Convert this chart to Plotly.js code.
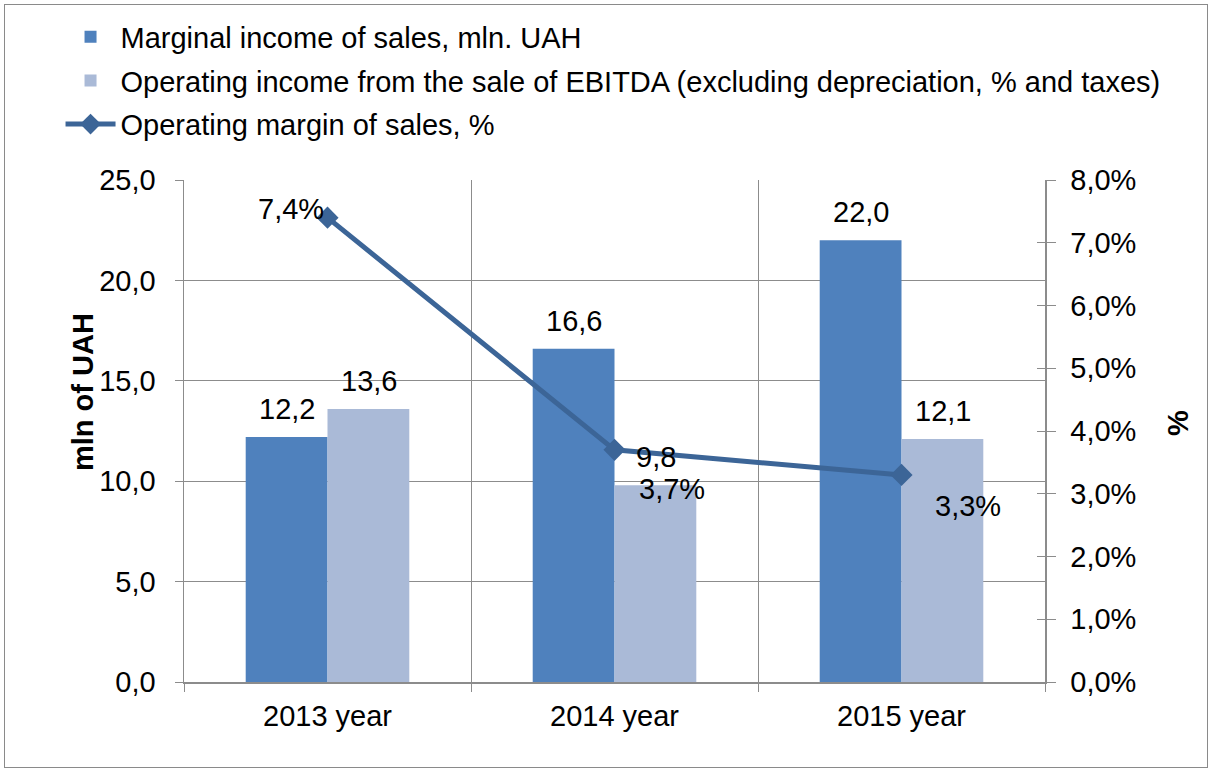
<!DOCTYPE html>
<html>
<head>
<meta charset="utf-8">
<script src="https://cdn.plot.ly/plotly-3.0.1.min.js"></script>
<style>
  html, body { margin: 0; padding: 0; background: #fff; }
  #wrap { position: relative; width: 1212px; height: 772px; }
  #chart { width: 1212px; height: 772px; }
  #frame { position: absolute; left: 4px; top: 4px; width: 1202px; height: 762px; border: 1px solid #8a8a8a; pointer-events: none; }
</style>
</head>
<body>
<div id="wrap"><div id="chart"></div><div id="frame"></div></div>
<script>
const categories = ["2013 year", "2014 year", "2015 year"];
const marginalIncome = [12.2, 16.6, 22.0];
const operatingIncome = [13.6, 9.8, 12.1];
const operatingMargin = [0.074, 0.037, 0.033];
const seriesNames = [
  "Marginal income of sales, mln. UAH",
  "Operating income from the sale of EBITDA (excluding depreciation, % and taxes)",
  "Operating margin of sales, %"
];
const leftTicks = [0, 5, 10, 15, 20, 25];
const rightTicks = [0, 0.01, 0.02, 0.03, 0.04, 0.05, 0.06, 0.07, 0.08];
const leftTitle = "mln of UAH";
const rightTitle = "%";

// label placement styling (pixel offsets from each point)
const lineLabelShiftX = [-37, 57, 66];
const lineLabelShiftY = [9, -39, -31];

const FONT = "Liberation Sans, Arial, sans-serif";
const FS = 29;
const gridColor = "#8c8c8c";

const fmt1 = v => v.toFixed(1).replace(".", ",");
const fmtPct = v => (v * 100).toFixed(1).replace(".", ",") + "%";

const traces = [
  {
    type: "bar", name: seriesNames[0], x: categories, y: marginalIncome,
    marker: { color: "#4F81BD" }, legendgroup: "a"
  },
  {
    type: "bar", name: seriesNames[1], x: categories, y: operatingIncome,
    marker: { color: "#AABAD7" }, legendgroup: "b"
  },
  {
    type: "scatter", mode: "lines+markers", name: seriesNames[2],
    x: categories, y: operatingMargin, yaxis: "y2", legendgroup: "c",
    line: { color: "#3C6597", width: 5 },
    marker: { symbol: "diamond", size: 17, color: "#3C6597" }
  },
  { type: "scatter", x: categories, y: operatingMargin, yaxis: "y3", mode: "none", showlegend: false, hoverinfo: "skip" }
];

const annotations = [];
const barHalf = 41;
categories.forEach((c, i) => {
  annotations.push({ x: c, y: marginalIncome[i], xref: "x", yref: "y", text: fmt1(marginalIncome[i]),
    showarrow: false, xshift: -barHalf, yshift: 28, font: { family: FONT, size: FS, color: "#000" } });
  annotations.push({ x: c, y: operatingIncome[i], xref: "x", yref: "y", text: fmt1(operatingIncome[i]),
    showarrow: false, xshift: barHalf, yshift: 28, font: { family: FONT, size: FS, color: "#000" } });
  annotations.push({ x: c, y: operatingMargin[i], xref: "x", yref: "y2", text: fmtPct(operatingMargin[i]),
    showarrow: false, xshift: lineLabelShiftX[i], yshift: lineLabelShiftY[i], font: { family: FONT, size: FS, color: "#000" } });
});
// axis titles
annotations.push({ xref: "paper", yref: "paper", x: (83 - 184) / 861, y: (682 - 392) / 502, text: "<b>" + leftTitle + "</b>",
  textangle: -90, showarrow: false, xanchor: "center", yanchor: "middle", font: { family: FONT, size: FS, color: "#000" } });
annotations.push({ xref: "paper", yref: "paper", x: (1178 - 184) / 861, y: (682 - 423) / 502, text: "<b>" + rightTitle + "</b>",
  textangle: -90, showarrow: false, xanchor: "center", yanchor: "middle", font: { family: FONT, size: FS, color: "#000" } });

const layout = {
  width: 1212, height: 772,
  margin: { l: 184, r: 167, t: 180, b: 90, autoexpand: false },
  paper_bgcolor: "#fff", plot_bgcolor: "#fff",
  separators: ",.",
  font: { family: FONT, size: FS, color: "#000" },
  barmode: "group", bargap: 0.43, bargroupgap: 0,
  showlegend: true,
  legend: {
    x: -0.1434, y: 1.336, xanchor: "left", yanchor: "top",
    orientation: "v", font: { family: FONT, size: 29, color: "#000" },
    tracegroupgap: 3, itemwidth: 50, bgcolor: "rgba(0,0,0,0)"
  },
  annotations: annotations,
  xaxis: {
    type: "category", showgrid: true, gridcolor: gridColor, gridwidth: 1,
    tickson: "boundaries", ticks: "outside", ticklen: 8, tickcolor: gridColor,
    showline: true, linecolor: gridColor, linewidth: 1.5, ticklabelstandoff: 8,
    tickfont: { family: FONT, size: FS }, zeroline: false
  },
  yaxis: {
    range: [0, 25], tickvals: leftTicks, tickformat: ".1f",
    showgrid: true, gridcolor: gridColor, gridwidth: 1,
    ticks: "outside", ticklen: 8, tickcolor: gridColor, ticklabelstandoff: 13,
    showline: true, linecolor: gridColor, linewidth: 1.5, zeroline: false,
    tickfont: { family: FONT, size: FS }
  },
  yaxis2: {
    overlaying: "y", side: "right", range: [0, 0.08], tickvals: rightTicks, tickformat: ".1%",
    showgrid: false, ticks: "outside", ticklen: 9, tickcolor: gridColor, ticklabelstandoff: 9,
    showline: true, linecolor: gridColor, linewidth: 1.5, zeroline: false,
    tickfont: { family: FONT, size: FS }
  },
  yaxis3: {
    overlaying: "y", side: "right", anchor: "x", range: [0, 0.08], tickvals: rightTicks,
    showticklabels: false, showgrid: false, ticks: "inside", ticklen: 8, tickcolor: gridColor,
    showline: false, zeroline: false
  }
};

Plotly.newPlot("chart", traces, layout, { displayModeBar: false, staticPlot: true });
</script>
</body>
</html>
